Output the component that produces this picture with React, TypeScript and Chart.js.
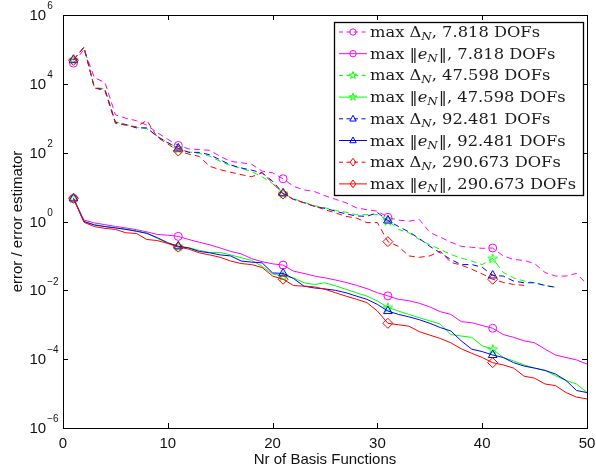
import React, { useEffect, useRef } from 'react';
import { Chart, registerables } from 'chart.js';

Chart.register(...registerables);

// ---------- data ----------
const nrBasis = [
  1, 2, 3, 4, 5, 6, 7, 8, 9, 10, 11, 12, 13, 14, 15, 16, 17, 18, 19, 20, 21, 22, 23, 24, 25,
  26, 27, 28, 29, 30, 31, 32, 33, 34, 35, 36, 37, 38, 39, 40, 41, 42, 43, 44, 45, 46, 47, 48, 49, 50,
];

// max Delta_N (error estimator), dashed
const deltaN_7818 = [
  4.0e4, 1.0e5, 1.5e4, 1.1e4, 1260, 1000, 850, 630, 380, 245,
  162, 129, 123, 117, 78, 56, 51, 46, 29, 26,
  17.4, 10.5, 8.3, 7.4, 5.6, 4.4, 3.5, 2.5, 2.2, 2.0,
  1.32, 1.1, 1.02, 1.15, 0.48, 0.35, 0.25, 0.19, 0.178, 0.166,
  0.17, 0.1, 0.079, 0.074, 0.06, 0.033, 0.026, 0.026, 0.031, 0.015,
];
const deltaN_47598 = [
  5.0e4, 1.12e5, 7900, 7100, 790, 660, 550, 500, 295, 200,
  132, 105, 95, 79, 56, 42, 35, 28, 20, 12.6,
  6.6, 4.6, 3.6, 2.9, 2.5, 2.1, 1.86, 1.58, 1.58, 1.58,
  1.07, 0.59, 0.47, 0.3, 0.21, 0.155, 0.11, 0.087, 0.071, 0.056,
  0.085, 0.033, 0.023, 0.0186, 0.0166, 0.0138, 0.0123,
];
const deltaN_92481 = [
  5.0e4, 1.17e5, 7600, 6800, 760, 650, 525, 525, 295, 195,
  132, 102, 102, 87, 62, 44, 36, 31, 26, 14.8,
  6.6, 4.4, 3.5, 2.75, 2.4, 2.0, 1.66, 1.45, 1.41, 1.82,
  1.07, 0.72, 0.5, 0.32, 0.19, 0.123, 0.079, 0.056, 0.056, 0.047,
  0.027, 0.026, 0.0186, 0.0166, 0.0166, 0.0138, 0.0123,
];
const deltaN_290673 = [
  4.8e4, 1.17e5, 7600, 6300, 710, 630, 560, 870, 280, 178,
  112, 91, 78, 40, 32, 27, 23, 20, 26, 13.2,
  6.3, 4.4, 3.5, 2.8, 2.2, 1.78, 1.41, 1.26, 0.93, 0.93,
  0.26, 0.19, 0.1, 0.091, 0.1, 0.138, 0.065, 0.054, 0.041, 0.03,
  0.021, 0.017, 0.0148, 0.014,
];

// max ||e_N|| (true error), solid
const errN_7818 = [
  4.7, 1.1, 0.91, 0.81, 0.72, 0.65, 0.58, 0.5, 0.42, 0.4,
  0.37, 0.3, 0.25, 0.21, 0.17, 0.135, 0.115, 0.083, 0.068, 0.059,
  0.054, 0.036, 0.031, 0.026, 0.023, 0.02, 0.017, 0.014, 0.0112, 0.0085,
  0.0069, 0.0055, 0.005, 0.0042, 0.0033, 0.0024, 0.002, 0.00123, 0.00115, 0.00095,
  0.00079, 0.00052, 0.00043, 0.00034, 0.0003, 0.000195, 0.000132, 0.000112, 0.000095, 0.000072,
];
const errN_47598 = [
  4.7, 1.0, 0.81, 0.72, 0.66, 0.6, 0.54, 0.47, 0.32, 0.24,
  0.19, 0.174, 0.145, 0.126, 0.126, 0.107, 0.089, 0.074, 0.05, 0.03,
  0.026, 0.023, 0.0166, 0.0148, 0.0166, 0.0135, 0.0107, 0.0085, 0.0068, 0.0049,
  0.0032, 0.0025, 0.002, 0.0016, 0.0013, 0.00105, 0.00052, 0.00047, 0.00043, 0.000245,
  0.000195, 0.000112, 0.000089, 0.000068, 0.000055, 0.000047, 0.000033, 0.000024, 0.000019, 0.0000107,
];
const errN_92481 = [
  4.7, 1.0, 0.79, 0.71, 0.65, 0.59, 0.52, 0.45, 0.34, 0.24,
  0.19, 0.17, 0.135, 0.123, 0.107, 0.1, 0.071, 0.066, 0.063, 0.032,
  0.031, 0.022, 0.0132, 0.0117, 0.011, 0.01, 0.0085, 0.0068, 0.0055, 0.0039,
  0.0025, 0.002, 0.0017, 0.0014, 0.0011, 0.00083, 0.00066, 0.00034, 0.000195, 0.000166,
  0.000132, 0.000112, 0.000079, 0.000063, 0.000055, 0.000047, 0.000037, 0.000024, 0.0000123, 0.0000107,
];
const errN_290673 = [
  4.7, 0.95, 0.71, 0.63, 0.59, 0.47, 0.45, 0.3, 0.28, 0.23,
  0.18, 0.158, 0.123, 0.107, 0.091, 0.071, 0.06, 0.056, 0.046, 0.026,
  0.021, 0.0138, 0.0132, 0.0126, 0.0107, 0.0085, 0.0068, 0.0055, 0.0044, 0.0025,
  0.0011, 0.001, 0.00091, 0.00063, 0.0005, 0.0004, 0.0003, 0.0002, 0.000148, 0.000112,
  0.000079, 0.000068, 0.000055, 0.000032, 0.000028, 0.000019, 0.000017, 0.0000107, 0.0000079, 0.000007,
];

const dofLabels = ['7.818', '47.598', '92.481', '290.673'];
const xTicks = [0, 10, 20, 30, 40, 50];
const yTickExponents = [6, 4, 2, 0, -2, -4, -6];
const xTitle = 'Nr of Basis Functions';
const yTitle = 'error / error estimator';

// ---------- styling ----------
const W = 596;
const H = 472;
const AREA = { left: 63, top: 15, right: 587, bottom: 428 };
const SANS = '"Liberation Sans", Arial, Helvetica, sans-serif';
const SERIF = '"DejaVu Serif", "Liberation Serif", serif';
const seriesColors = ['#ff00ff', '#00ff00', '#0000ff', '#ff0000'];
const markerKinds = ['circle', 'star', 'triangle', 'diamond'];

function starPath(g: CanvasRenderingContext2D, cx: number, cy: number, R: number) {
  const r = R * 0.4;
  g.beginPath();
  for (let k = 0; k < 10; k++) {
    const a = -Math.PI / 2 + (k * Math.PI) / 5;
    const rad = k % 2 === 0 ? R : r;
    const px = cx + rad * Math.cos(a);
    const py = cy + rad * Math.sin(a);
    if (k === 0) g.moveTo(px, py);
    else g.lineTo(px, py);
  }
  g.closePath();
}

function makeStarCanvas(color: string, R: number) {
  const c = document.createElement('canvas');
  const size = Math.ceil(R * 2 + 4);
  c.width = size;
  c.height = size;
  const g = c.getContext('2d')!;
  g.strokeStyle = color;
  g.lineWidth = 1;
  starPath(g, size / 2, size / 2 + 0.5, R);
  g.stroke();
  return c;
}

function drawMarker(g: CanvasRenderingContext2D, kind: string, x: number, y: number, s: number, color: string) {
  g.save();
  g.setLineDash([]);
  g.strokeStyle = color;
  g.lineWidth = 1;
  g.beginPath();
  if (kind === 'circle') {
    g.arc(x, y, s, 0, Math.PI * 2);
  } else if (kind === 'triangle') {
    g.moveTo(x, y - s * 1.1);
    g.lineTo(x + s, y + s * 0.7);
    g.lineTo(x - s, y + s * 0.7);
    g.closePath();
  } else if (kind === 'diamond') {
    g.moveTo(x, y - s * 1.2);
    g.lineTo(x + s * 0.9, y);
    g.lineTo(x, y + s * 1.2);
    g.lineTo(x - s * 0.9, y);
    g.closePath();
  } else if (kind === 'star') {
    starPath(g, x, y, s * 1.2);
  }
  g.stroke();
  g.restore();
}

type Seg = { t: string; font: string; dy: number; pre?: number };
const ROMAN = '15px ' + SERIF;
const ITAL = 'italic 15px ' + SERIF;
const SUB = 'italic 11px ' + SERIF;

function legendSegments(i: number): Seg[] {
  const s = Math.floor(i / 2);
  const dashed = i % 2 === 0;
  const segs: Seg[] = [{ t: 'max ', font: ROMAN, dy: 0 }];
  if (dashed) {
    segs.push({ t: '\u0394', font: ROMAN, dy: 0 });
    segs.push({ t: 'N', font: SUB, dy: 3 });
  } else {
    segs.push({ t: '\u2016', font: ROMAN, dy: 0 });
    segs.push({ t: 'e', font: ITAL, dy: 0 });
    segs.push({ t: 'N', font: SUB, dy: 3 });
    segs.push({ t: '\u2016', font: ROMAN, dy: 0, pre: 1 });
  }
  segs.push({ t: ', ' + dofLabels[s] + ' DOFs', font: ROMAN, dy: 0 });
  return segs;
}

function segWidth(g: CanvasRenderingContext2D, segs: Seg[]) {
  let w = 0;
  segs.forEach((sg) => {
    g.font = sg.font;
    w += (sg.pre || 0) + g.measureText(sg.t).width;
  });
  return w;
}

const overlayPlugin = {
  id: 'matlabOverlay',
  afterDraw(chart: any) {
    const g: CanvasRenderingContext2D = chart.ctx;
    const xs = chart.scales.x;
    const ys = chart.scales.y;
    const a = chart.chartArea;
    g.save();
    // frame
    g.strokeStyle = '#000';
    g.lineWidth = 1;
    g.setLineDash([]);
    g.strokeRect(Math.round(a.left) + 0.5, Math.round(a.top) + 0.5, Math.round(a.right - a.left), Math.round(a.bottom - a.top));
    // ticks
    const tl = 5;
    g.beginPath();
    xTicks.forEach((t) => {
      const px = Math.round(xs.getPixelForValue(t)) + 0.5;
      g.moveTo(px, a.bottom);
      g.lineTo(px, a.bottom - tl);
      g.moveTo(px, a.top);
      g.lineTo(px, a.top + tl);
    });
    yTickExponents.forEach((e) => {
      const py = Math.round(ys.getPixelForValue(Math.pow(10, e))) + 0.5;
      g.moveTo(a.left, py);
      g.lineTo(a.left + tl, py);
      g.moveTo(a.right, py);
      g.lineTo(a.right - tl, py);
    });
    g.stroke();

    // tick labels
    g.fillStyle = '#111';
    g.font = '15px ' + SANS;
    g.textAlign = 'center';
    g.textBaseline = 'alphabetic';
    xTicks.forEach((t) => {
      g.fillText(String(t), xs.getPixelForValue(t), 448);
    });
    yTickExponents.forEach((e) => {
      const py = ys.getPixelForValue(Math.pow(10, e));
      g.font = '15px ' + SANS;
      g.textAlign = 'left';
      g.textBaseline = 'middle';
      g.fillText('10', 29.5, py + 1);
      const w = g.measureText('10').width;
      g.font = '10px ' + SANS;
      const exp = e < 0 ? '\u2212' + String(-e) : String(e);
      g.fillText(exp, 29.5 + w + 1, py - 8.5);
    });

    // axis titles
    g.font = '15px ' + SANS;
    g.textAlign = 'center';
    g.textBaseline = 'alphabetic';
    g.fillText(xTitle, (a.left + a.right) / 2, 463.5);
    g.save();
    g.translate(22, (a.top + a.bottom) / 2);
    g.rotate(-Math.PI / 2);
    g.fillText(yTitle, 0, 0);
    g.restore();

    // legend
    const bx = 334.5, by = 22.5, bw = 249, bh = 173;
    g.fillStyle = '#fff';
    g.fillRect(bx, by, bw, bh);
    g.strokeStyle = '#000';
    g.lineWidth = 1.3;
    g.strokeRect(bx, by, bw, bh);
    const rowH = 21.7;
    const textLeft = 370;
    const widest = segWidth(g, legendSegments(7));
    const fx = (576 - textLeft) / widest;
    for (let i = 0; i < 8; i++) {
      const s = Math.floor(i / 2);
      const dashed = i % 2 === 0;
      const color = seriesColors[s];
      const base = 37 + i * rowH;
      const cy = base - 5;
      g.save();
      g.strokeStyle = color;
      g.lineWidth = 1;
      g.setLineDash(dashed ? [4, 3.5] : []);
      g.beginPath();
      g.moveTo(339, cy);
      g.lineTo(367, cy);
      g.stroke();
      g.restore();
      drawMarker(g, markerKinds[s], 353, cy, 3.2, color);

      // text (stretched horizontally to match the reference's typeface width)
      g.save();
      g.translate(textLeft, base);
      g.scale(fx, 1);
      g.fillStyle = '#1a1a1a';
      g.textAlign = 'left';
      g.textBaseline = 'alphabetic';
      let x = 0;
      legendSegments(i).forEach((sg) => {
        g.font = sg.font;
        x += sg.pre || 0;
        g.fillText(sg.t, x, sg.dy);
        x += g.measureText(sg.t).width;
      });
      g.restore();
    }
    g.restore();
  },
};

export default function App() {
  const ref = useRef<HTMLCanvasElement | null>(null);
  useEffect(() => {
    if (!ref.current) return;
    const star = makeStarCanvas('#00ff00', 5);
    const deltaSeries = [deltaN_7818, deltaN_47598, deltaN_92481, deltaN_290673];
    const errSeries = [errN_7818, errN_47598, errN_92481, errN_290673];
    const styleFor = (s: number): any => {
      const k = markerKinds[s];
      if (k === 'circle') return 'circle';
      if (k === 'triangle') return 'triangle';
      if (k === 'diamond') return 'rectRot';
      return star;
    };
    const radiusFor = (s: number) => {
      const k = markerKinds[s];
      if (k === 'circle') return 4;
      if (k === 'triangle') return 5;
      if (k === 'diamond') return 5;
      return 5;
    };
    const datasets: any[] = [];
    for (let s = 0; s < 4; s++) {
      [deltaSeries[s], errSeries[s]].forEach((vals, j) => {
        const idx = s * 2 + j;
        datasets.push({
          label: (j === 0 ? 'max Delta_N, ' : 'max ||e_N||, ') + dofLabels[s] + ' DOFs',
          data: vals.map((v, i) => ({ x: nrBasis[i], y: v })),
          borderColor: seriesColors[s],
          backgroundColor: 'rgba(0,0,0,0)',
          borderWidth: 1,
          borderDash: j === 0 ? [6, 4] : [],
          pointStyle: styleFor(s),
          pointRadius: (c: any) => (c.dataIndex % 10 === 0 ? radiusFor(s) : 0),
          pointBorderColor: seriesColors[s],
          pointBackgroundColor: 'rgba(0,0,0,0)',
          pointBorderWidth: 1,
          tension: 0,
          order: 8 - idx,
        });
      });
    }
    const chart = new Chart(ref.current, {
      type: 'line',
      data: { datasets },
      options: {
        animation: false,
        responsive: false,
        events: [],
        devicePixelRatio: 1,
        layout: { padding: { left: 0, top: AREA.top, right: W - AREA.right, bottom: 0 } },
        plugins: { legend: { display: false }, tooltip: { enabled: false } },
        scales: {
          x: {
            type: 'linear',
            min: 0,
            max: 50,
            grid: { display: false },
            border: { display: false },
            ticks: { display: false },
            afterFit: (sc: any) => {
              sc.height = H - AREA.bottom;
            },
          },
          y: {
            type: 'logarithmic',
            min: 1e-6,
            max: 1e6,
            grid: { display: false },
            border: { display: false },
            ticks: { display: false },
            afterFit: (sc: any) => {
              sc.width = AREA.left;
            },
          },
        },
      } as any,
      plugins: [overlayPlugin],
    });
    return () => chart.destroy();
  }, []);
  return (
    <div style={{ position: 'fixed', left: 0, top: 0, width: W, height: H, background: '#fff' }}>
      <canvas ref={ref} width={W} height={H} style={{ display: 'block', width: W, height: H }} />
    </div>
  );
}
